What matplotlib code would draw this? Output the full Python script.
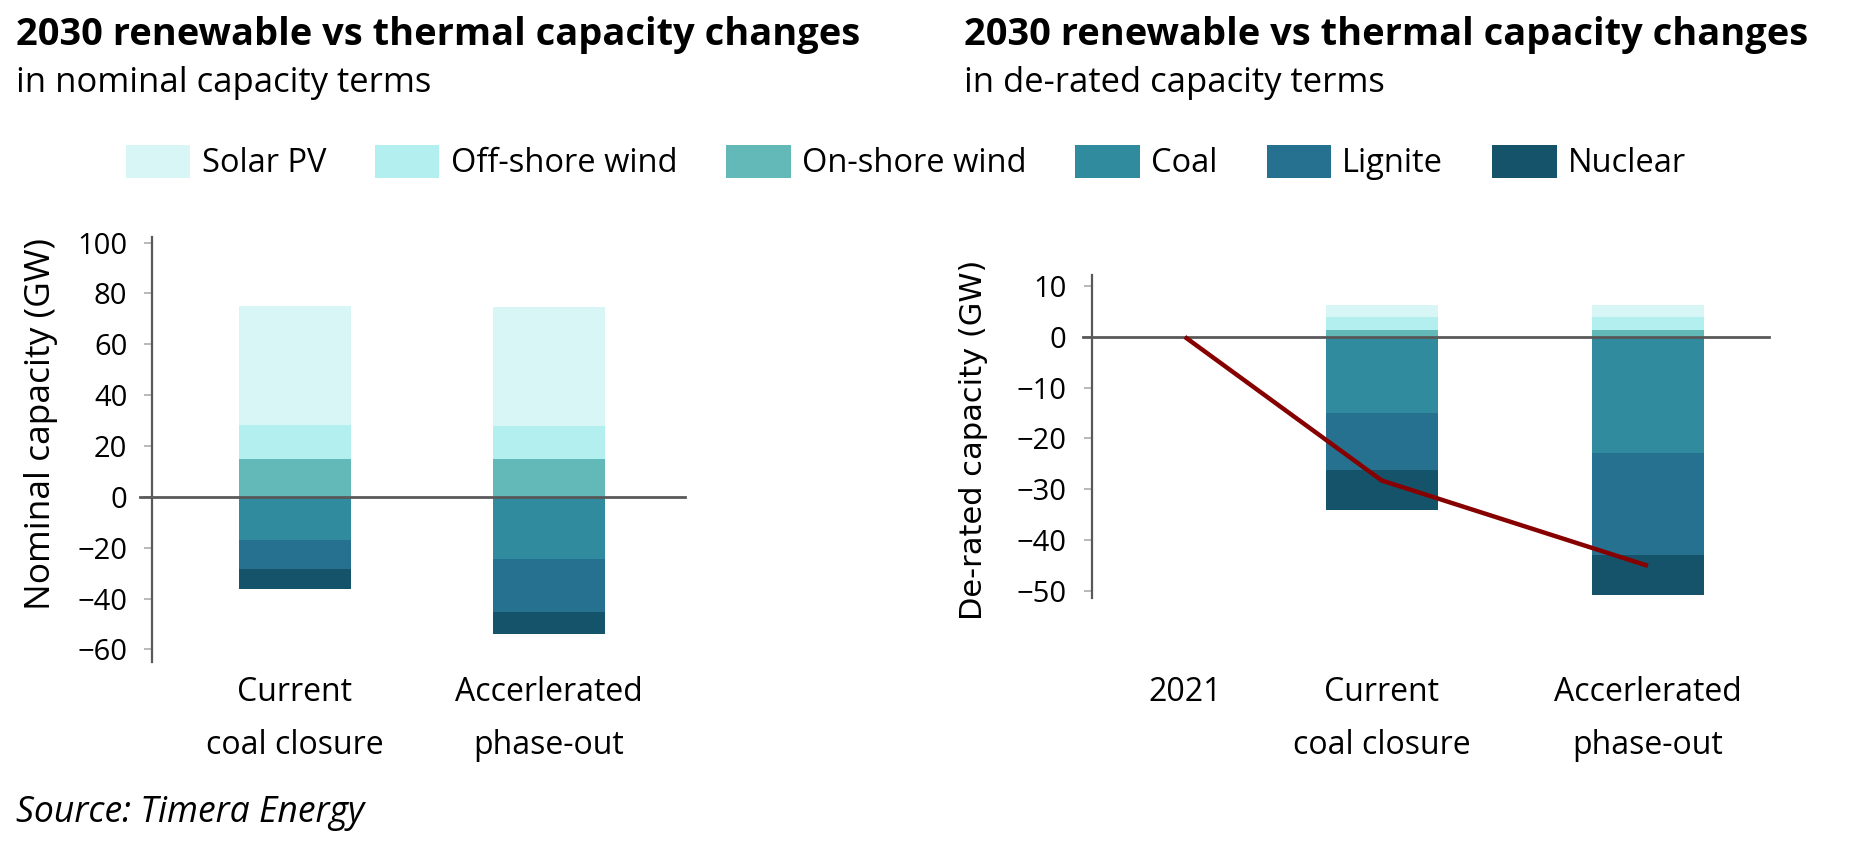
import numpy as np
import matplotlib
matplotlib.use("Agg")
import matplotlib.pyplot as plt
from matplotlib.patches import Patch

# ---------------- data ----------------
series = ["Solar PV", "Off-shore wind", "On-shore wind", "Coal", "Lignite", "Nuclear"]
scenarios = ["Current\ncoal closure", "Accerlerated\nphase-out"]

# nominal capacity change (GW)
nom_solar = [46.8, 46.8]
nom_offshore = [13.4, 13.0]
nom_onshore = [14.9, 14.9]
nom_coal = [-16.9, -24.4]
nom_lignite = [-11.4, -20.8]
nom_nuclear = [-8.1, -8.9]

# de-rated capacity change (GW)
der_solar = [2.36, 2.36]
der_offshore = [2.56, 2.56]
der_onshore = [1.38, 1.38]
der_coal = [-15.0, -22.9]
der_lignite = [-11.2, -20.0]
der_nuclear = [-8.0, -7.9]

net_categories = ["2021", "Current\ncoal closure", "Accerlerated\nphase-out"]
net_values = [0.0, -28.3, -45.1]

left_yticks = [-60, -40, -20, 0, 20, 40, 60, 80, 100]
right_yticks = [-50, -40, -30, -20, -10, 0, 10]

# ---------------- style ----------------
colors = {
    "Solar PV": "#d7f6f5",
    "Off-shore wind": "#b2efee",
    "On-shore wind": "#62b9b7",
    "Coal": "#308b9e",
    "Lignite": "#26718f",
    "Nuclear": "#15536b",
}
line_color = "#870000"
spine_color = "#595959"
tick_color = "#a6a6a6"

plt.rcParams["font.family"] = ["Open Sans", "DejaVu Sans"]

W, H = 1857, 850
fig = plt.figure(figsize=(W / 100, H / 100), dpi=100)


def fx(px):
    return px / W


def fy(py):
    return 1 - py / H


def stack(ax, pos, width, pos_vals, neg_vals):
    bottom = np.zeros(len(pos))
    for name, vals in pos_vals:
        ax.bar(pos, vals, width, bottom=bottom, color=colors[name], linewidth=0, zorder=2)
        bottom = bottom + np.array(vals)
    bottom = np.zeros(len(pos))
    for name, vals in neg_vals:
        ax.bar(pos, vals, width, bottom=bottom, color=colors[name], linewidth=0, zorder=2)
        bottom = bottom + np.array(vals)


def style_axis(ax, zero_ext):
    for s in ["top", "right", "bottom"]:
        ax.spines[s].set_visible(False)
    ax.spines["left"].set_color(spine_color)
    ax.spines["left"].set_linewidth(1.6)
    ax.tick_params(axis="y", direction="out", length=6, width=1.1, color=tick_color,
                   labelsize=21, pad=12)
    ax.tick_params(axis="x", length=0, labelsize=23)
    ax.axhline(0, xmin=-zero_ext, xmax=1, color=spine_color, lw=2.0, clip_on=False, zorder=3)


# ---------------- left chart ----------------
axL = fig.add_axes([fx(152.3), fy(661.7), fx(685 - 152.3), (661.7 - 237.3) / H])
posL = np.arange(len(scenarios))
stack(axL, posL, 0.441,
      [("On-shore wind", nom_onshore), ("Off-shore wind", nom_offshore), ("Solar PV", nom_solar)],
      [("Coal", nom_coal), ("Lignite", nom_lignite), ("Nuclear", nom_nuclear)])
axL.set_xlim(-0.562, 1.536)
axL.set_ylim(-64.8, 102.1)
axL.set_yticks(left_yticks)
axL.set_xticks(posL)
axL.set_xticklabels(scenarios, linespacing=1.8)
style_axis(axL, 0.0225)
axL.tick_params(axis="x", pad=10)
axL.set_ylabel("Nominal capacity (GW)", fontsize=25.5)
axL.yaxis.label.set_verticalalignment("center")
axL.yaxis.set_label_coords((41 - 152.3) / 532.7, (661.7 - 424) / 424.4)

# ---------------- right chart ----------------
axR = fig.add_axes([fx(1091.7), fy(598.3), fx(1769 - 1091.7), (598.3 - 275) / H])
posR = np.array([0.26, 1.0, 2.0])
stack(axR, posR[1:], 0.42,
      [("On-shore wind", der_onshore), ("Off-shore wind", der_offshore), ("Solar PV", der_solar)],
      [("Coal", der_coal), ("Lignite", der_lignite), ("Nuclear", der_nuclear)])
axR.plot(posR, net_values, color=line_color, lw=3.2, zorder=4, solid_capstyle="butt")
axR.set_xlim(-0.09, 2.455)
axR.set_ylim(-51.5, 12.2)
axR.set_yticks(right_yticks)
axR.set_xticks(posR)
axR.set_xticklabels(net_categories, linespacing=1.8)
style_axis(axR, 0.0124)
axR.tick_params(axis="x", pad=55.7)
axR.set_ylabel("De-rated capacity (GW)", fontsize=22, family=["DejaVu Sans"])
axR.yaxis.label.set_verticalalignment("center")
axR.yaxis.set_label_coords((973 - 1091.7) / 677.3, (598.3 - 440) / 323.3)

# ---------------- titles ----------------
title = "2030 renewable vs thermal capacity changes"
fig.text(fx(16), fy(45), title, fontsize=27.4, fontweight="bold", va="baseline", ha="left")
fig.text(fx(16), fy(91.7), "in nominal capacity terms", fontsize=24.9, va="baseline", ha="left")
fig.text(fx(964), fy(45), title, fontsize=27.4, fontweight="bold", va="baseline", ha="left")
fig.text(fx(964), fy(91.7), "in de-rated capacity terms", fontsize=24.9, va="baseline", ha="left")

# ---------------- legend ----------------
handles = [Patch(facecolor=colors[s], edgecolor="none", label=s) for s in series]
fig.legend(handles=handles, loc="center", bbox_to_anchor=(fx(906), fy(162.5)), ncol=6,
           frameon=False, fontsize=23.5, handlelength=1.97, handleheight=1.2,
           handletextpad=0.35, columnspacing=1.5, borderaxespad=0, borderpad=0)

# ---------------- source ----------------
fig.text(fx(16), fy(821.7), "Source: Timera Energy", fontsize=25.6, style="italic",
         va="baseline", ha="left")

fig.savefig("out.png", dpi=100)
